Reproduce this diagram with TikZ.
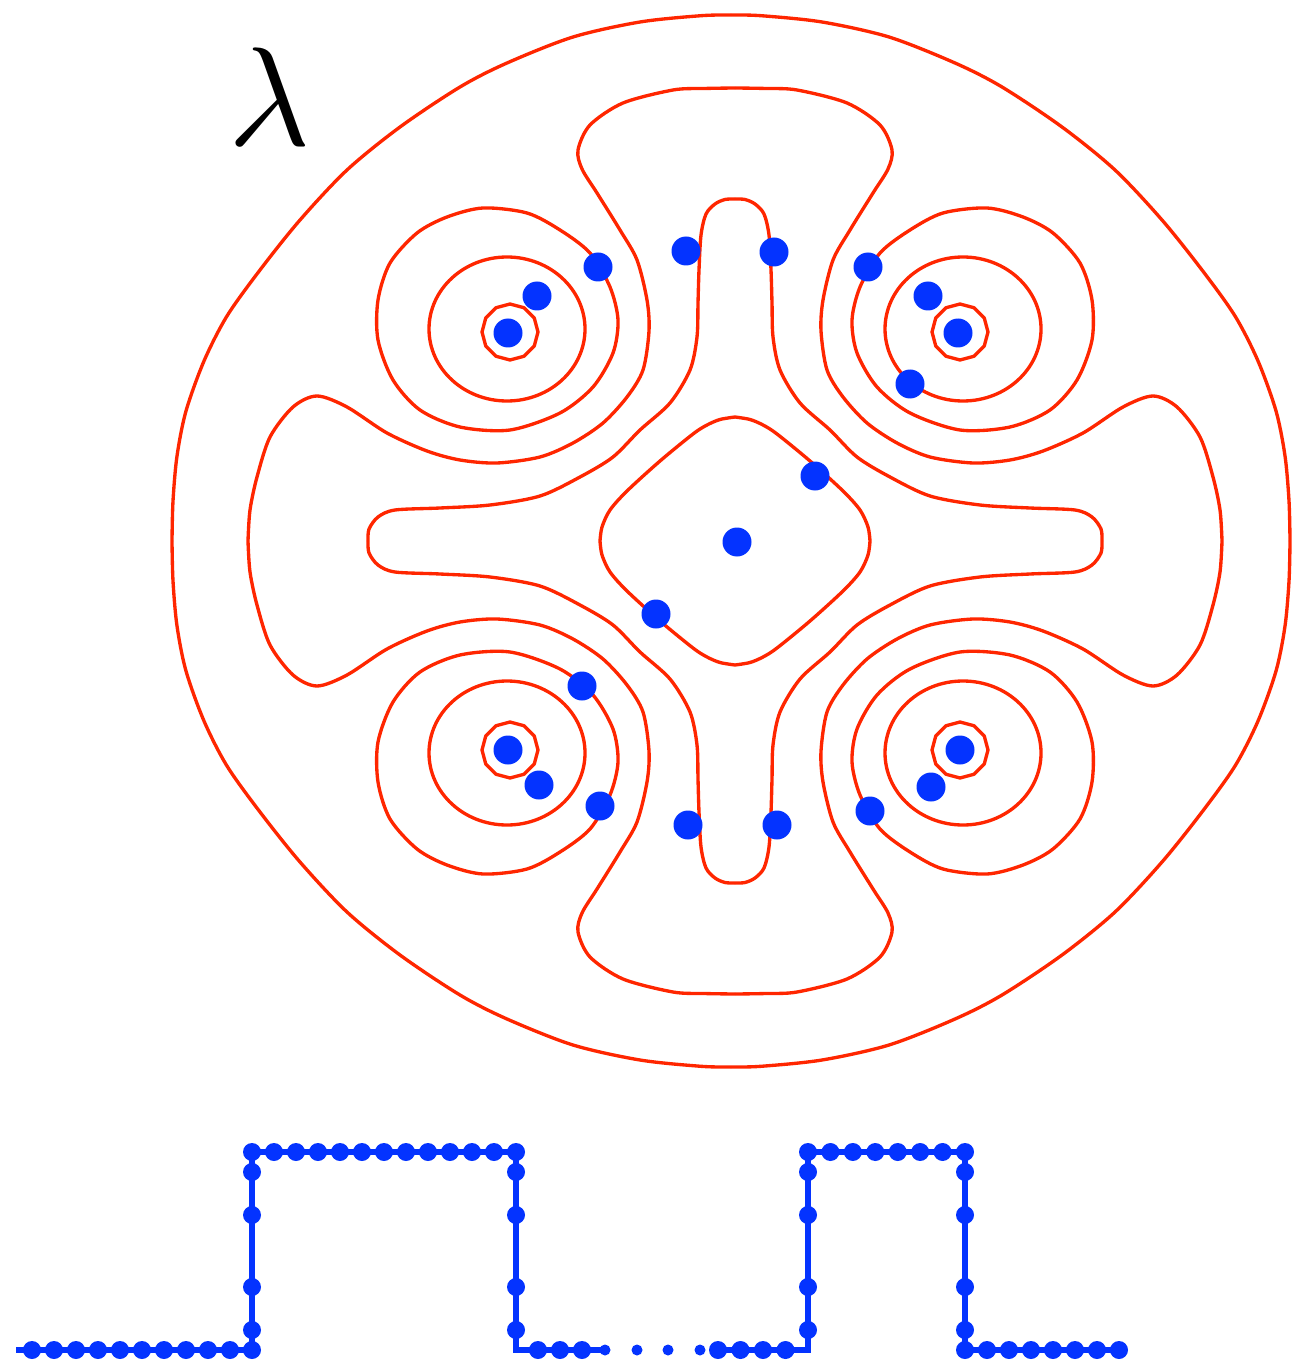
\documentclass[tikz,border=0pt]{standalone}
\usepackage{xcolor}
\usepackage{tikz}
\definecolor{rouge}{HTML}{FF2600}
\definecolor{bleu}{HTML}{0433FF}
\tikzset{
  niveau/.style={draw=rouge, line width=0.95pt, line join=round},
  marche/.style={draw=bleu, line width=1.45pt},
  gros/.style={fill=bleu},
  etiquette/.style={scale=4, inner sep=0, anchor=base}
}
\begin{document}
\begin{tikzpicture}[x=0.01cm, y=-0.01cm]
  \useasboundingbox (0,0) rectangle (1293,1361);
  \node[etiquette] (lambda) at (270,146) {$\lambda$};

  % lignes de niveau : un quart trace, puis reflechi
  \foreach \sx/\sy in {1/1,-1/1,1/-1,-1/-1}{
    \begin{scope}[shift={(731,541)}, xscale=\sx, yscale=\sy]
      \draw[niveau] plot[smooth] coordinates {(0,-526) (-30,-525.3) (-91,-519) (-158,-504) (-224,-478) (-271,-454) (-331,-414) (-384,-371) (-431,-321) (-471,-271) (-504,-225) (-527,-180) (-545,-130) (-554,-85) (-558,-40) (-559,0)};
    \end{scope}
    \begin{scope}[shift={(735,541)}, xscale=\sx, yscale=\sy]
      \draw[niveau] plot[smooth] coordinates {(0,-453) (-31,-452.5) (-62,-451) (-112,-438) (-145,-416) (-157,-391) (-153,-372) (-138,-348) (-115,-311) (-98,-281) (-88,-241) (-86,-210) (-92,-171) (-108,-144) (-132,-118) (-162,-98) (-195,-84) (-238,-78) (-275,-81) (-308,-90) (-348,-108) (-388,-134) (-418,-145) (-442,-134) (-465,-104) (-478,-64) (-485,-31) (-487,0)};
      \draw[niveau] plot[smooth] coordinates {(0,-342) (-10,-341.5) (-20,-337) (-29,-327) (-34,-306) (-36,-271) (-37,-238) (-38,-204) (-45,-171) (-65,-138) (-95,-111) (-122,-84) (-155,-64) (-195,-45) (-245,-36) (-295,-33) (-340,-31) (-357,-24) (-366,-12) (-367,0)};
      \draw[niveau] plot[smooth] coordinates {(0,-124) (-15,-121.5) (-28,-116) (-42,-107) (-75,-80) (-108,-50) (-125,-31) (-133,-14) (-135,0)};
      % puits
      \begin{scope}[shift={(-225,-209)}]
        \draw[niveau] (0:28) \foreach \a in {30,60,...,330}{-- (\a:28)} -- cycle;
        \draw[niveau] (-3,-3) ellipse[x radius=78, y radius=72];
        \draw[niveau] plot[smooth cycle] coordinates {(-27,-124) (17,-119) (50,-102) (80,-79) (100,-45) (108,-12) (103,21) (83,55) (50,81) (0,98) (-50,95) (-90,78) (-117,48) (-132,8) (-132,-32) (-120,-69) (-93,-99) (-63,-115)};
      \end{scope}
    \end{scope}
  }

  % points
  \foreach \p in {(598,267), (686,251), (774,252), (868,267), (537,296), (928,296),
      (508,333), (958,333), (910,384), (815,476), (737,542), (656,614), (582,686),
      (508,750), (960,750), (539,785), (931,787), (600,806), (688,825), (777,825), (870,811)}
    \fill[gros] \p circle[radius=14.5];

  % fonction en marches
  \draw[marche] (16,1350) -- (252,1350) -- (252,1152) -- (516,1152) -- (516,1350) -- (605,1350);
  \draw[marche] (711,1350) -- (808,1350) -- (808,1152) -- (965,1152) -- (965,1350) -- (1119,1350);
  \foreach \i in {0,...,10} \fill[gros] (252-22*\i,1350) circle[radius=9];
  \foreach \i in {0,...,12} \fill[gros] (252+22*\i,1152) circle[radius=9];
  \foreach \i in {1,...,3} \fill[gros] (516+22*\i,1350) circle[radius=9];
  \foreach \i in {1,...,4} \fill[gros] (808-22.5*\i,1350) circle[radius=9];
  \foreach \i in {0,...,7} \fill[gros] (808+22.43*\i,1152) circle[radius=9];
  \foreach \i in {0,...,7} \fill[gros] (965+22*\i,1350) circle[radius=9];
  \foreach \x in {252,516,808,965}
    \foreach \y in {1172,1215,1287,1330}
      \fill[gros] (\x,\y) circle[radius=9];
  \foreach \x in {605,637,668,700} \fill[gros] (\x,1350) circle[radius=5.5];
\end{tikzpicture}
\end{document}
